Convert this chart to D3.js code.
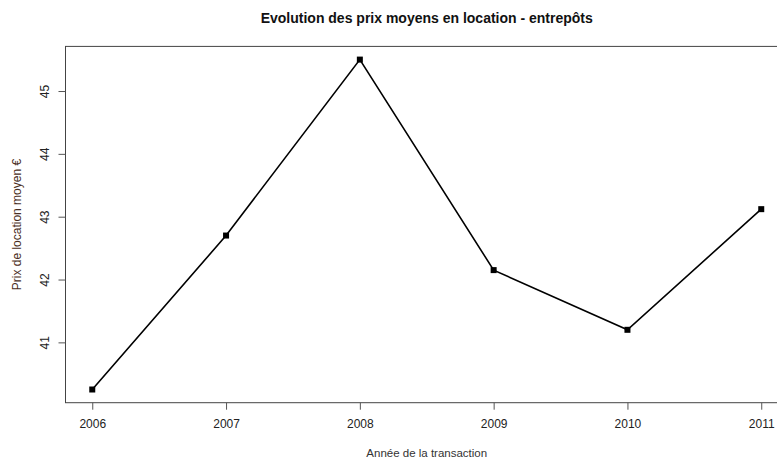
<!DOCTYPE html>
<html><head><meta charset="utf-8">
<script src="https://cdn.jsdelivr.net/npm/d3@7"></script>
<style>body{margin:0;background:#fff}</style>
</head><body>
<script>
const years = [2006, 2007, 2008, 2009, 2010, 2011];
const prices = [40.25, 42.70, 45.50, 42.15, 41.20, 43.12];
const yTicks = [41, 42, 43, 44, 45];
const xTicks = [2006, 2007, 2008, 2009, 2010, 2011];
const title = "Evolution des prix moyens en location - entrepôts";
const xLabel = "Année de la transaction";
const yLabel = "Prix de location moyen €";

const W = 777, H = 459;
const plot = {left: 65.5, right: 788, top: 46.4, bottom: 402.7};
const svg = d3.select("body").append("svg").attr("width", W).attr("height", H)
  .style("font-family", "'Liberation Sans', Arial, sans-serif");

const xExt = d3.extent(years), xPad = (xExt[1]-xExt[0])*0.04;
const yExt = d3.extent(prices), yPad = (yExt[1]-yExt[0])*0.04;
const x = d3.scaleLinear().domain([xExt[0]-xPad, xExt[1]+xPad]).range([plot.left, plot.right]);
const y = d3.scaleLinear().domain([yExt[0]-yPad, yExt[1]+yPad]).range([plot.bottom, plot.top]);

// box
svg.append("rect").attr("x", plot.left).attr("y", plot.top)
  .attr("width", plot.right-plot.left).attr("height", plot.bottom-plot.top)
  .attr("fill", "none").attr("stroke", "#444").attr("stroke-width", 1);

// x axis
const xa = svg.append("g").attr("transform", `translate(0,${plot.bottom})`)
  .call(d3.axisBottom(x).tickValues(xTicks).tickFormat(d3.format("d")).tickSizeOuter(0).tickSize(7).tickPadding(10));
xa.select(".domain").remove();
xa.selectAll("line").attr("stroke", "#555");
xa.selectAll("text").attr("font-size", 12).attr("fill", "#222")
  .attr("font-family", "'Liberation Sans', Arial, sans-serif");

// y axis
const ya = svg.append("g").attr("transform", `translate(${plot.left},0)`)
  .call(d3.axisLeft(y).tickValues(yTicks).tickFormat(d3.format("d")).tickSizeOuter(0).tickSize(7));
ya.select(".domain").remove();
ya.selectAll("line").attr("stroke", "#555");
ya.selectAll("text").remove();
ya.selectAll(".tick").append("text")
  .attr("transform", "translate(-17,0) rotate(-90)")
  .attr("text-anchor", "middle").attr("dy", "0")
  .attr("font-size", 12).attr("fill", "#222")
  .attr("font-family", "'Liberation Sans', Arial, sans-serif")
  .text(d => d);

// line
const data = years.map((yr, i) => ({yr, v: prices[i]}));
svg.append("path").datum(data)
  .attr("d", d3.line().x(d => x(d.yr)).y(d => y(d.v)))
  .attr("fill", "none").attr("stroke", "#000").attr("stroke-width", 1.6);
svg.selectAll("rect.pt").data(data).enter().append("rect").attr("class", "pt")
  .attr("x", d => x(d.yr)-3).attr("y", d => y(d.v)-3)
  .attr("width", 6).attr("height", 6).attr("fill", "#000");

// title
svg.append("text").attr("x", (plot.left+plot.right)/2).attr("y", 23)
  .attr("text-anchor", "middle").attr("font-size", 14).attr("font-weight", "bold")
  .attr("fill", "#111").text(title);
svg.append("text").attr("x", (plot.left+plot.right)/2).attr("y", 457)
  .attr("text-anchor", "middle").attr("font-size", 11.5).attr("fill", "#333").text(xLabel);
svg.append("text").attr("transform", `translate(21,${(plot.top+plot.bottom)/2}) rotate(-90)`)
  .attr("text-anchor", "middle").attr("font-size", 12).attr("fill", "#4a2e22").text(yLabel);
</script>
</body></html>
